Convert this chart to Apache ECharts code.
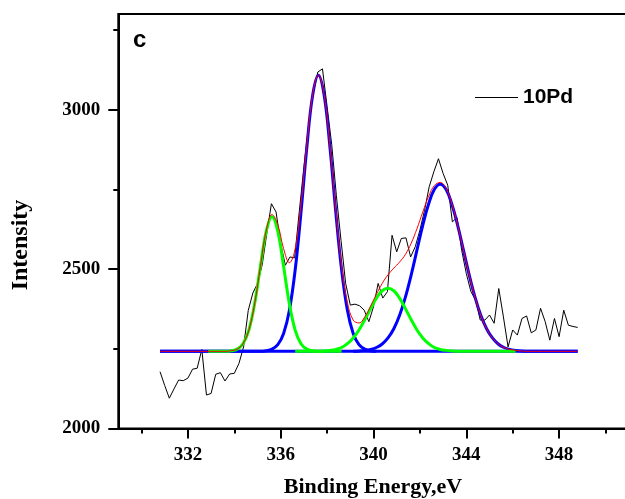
<!DOCTYPE html>
<html><head><meta charset="utf-8">
<script src="https://cdn.jsdelivr.net/npm/echarts@6/dist/echarts.min.js"></script>
<style>html,body{margin:0;padding:0;background:#fff}#c{width:625px;height:499px}</style>
</head><body><div id="c"></div>
<script>
// Measured spectrum (Binding energy, eV) and intensity
const energy = [330.8,331.0,331.2,331.4,331.6,331.8,332.0,332.2,332.4,332.6,332.8,333.0,333.2,333.4,333.6,333.8,334.0,334.2,334.4,334.6,334.8,335.0,335.2,335.4,335.6,335.8,336.0,336.2,336.4,336.6,336.8,337.0,337.2,337.4,337.6,337.8,338.0,338.2,338.4,338.6,338.8,339.0,339.2,339.4,339.6,339.8,340.0,340.2,340.4,340.6,340.8,341.0,341.2,341.4,341.6,341.8,342.0,342.2,342.4,342.6,342.8,343.0,343.2,343.4,343.6,343.8,344.0,344.2,344.4,344.6,344.8,345.0,345.2,345.4,345.6,345.8,346.0,346.2,346.4,346.6,346.8,347.0,347.2,347.4,347.6,347.8,348.0,348.2,348.4,348.6,348.8];
const intensity = [2178,2135,2095,2124,2152,2150,2158,2186,2189,2248,2105,2110,2170,2175,2149,2171,2173,2204,2256,2370,2425,2455,2512,2611,2705,2679,2580,2512,2538,2535,2680,2820,2950,3050,3118,3128,3010,2890,2730,2590,2455,2387,2390,2385,2371,2335,2382,2455,2409,2429,2606,2554,2596,2598,2538,2570,2622,2684,2758,2805,2846,2800,2763,2648,2662,2559,2486,2429,2403,2340,2340,2356,2330,2439,2350,2256,2309,2293,2345,2353,2300,2309,2377,2335,2277,2345,2288,2371,2324,2320,2317];

// Energy grid of the fitted curves
const fitGrid = [332.875,333.125,333.375,333.625,333.875,334.125,334.375,334.625,334.875,335.125,335.375,335.625,335.875,336.125,336.375,336.625,336.875,337.125,337.375,337.625,337.875,338.125,338.375,338.625,338.875,339.125,339.375,339.625,339.875,340.125,340.375,340.625,340.875,341.125,341.375,341.625,341.875,342.125,342.375,342.625,342.875,343.125,343.375,343.625,343.875,344.125,344.375,344.625,344.875,345.125,345.375,345.625,345.875,346.125,346.375,346.625,346.875];
const startE = 330.8;
const endE = 348.8;

// Fit background level and fitted components
const background = [2242, 2242];
const green1 = [2242,2242,2242,2242,2244,2249,2266,2308,2391,2508,2618,2664,2618,2508,2391,2308,2266,2249,2244,2242,2242,2242,2242,2242];
const blue1 = [2242,2242,2244,2249,2263,2298,2371,2498,2678,2880,3044,3108,3044,2880,2678,2498,2371,2298,2263,2249,2244,2242];
const green2 = [2242,2242,2242,2242,2242,2243,2245,2248,2254,2266,2284,2309,2341,2376,2409,2432,2440,2432,2409,2376,2341,2309,2284,2266,2254,2248,2245,2243,2242,2242,2242,2242,2242,2242,2242,2242,2242,2242,2242];
const blue2 = [2242,2243,2245,2248,2254,2265,2284,2313,2355,2412,2482,2560,2638,2704,2750,2766,2750,2704,2638,2560,2482,2412,2355,2313,2284,2265,2254,2248,2245,2243,2242,2242,2242];
const envelope = [2242,2242,2242,2242,2244,2249,2266,2308,2391,2508,2620,2671,2639,2564,2520,2564,2702,2887,3046,3109,3045,2883,2684,2510,2395,2340,2331,2350,2384,2421,2455,2482,2503,2522,2546,2581,2627,2679,2728,2762,2772,2753,2706,2638,2560,2482,2412,2355,2313,2284,2265,2254,2248,2245,2243,2242,2242,2242];

// Axis ticks
const xTickLabels = [332,336,340,344,348];
const xMinorTicks = [330,334,338,342,346,350];
const yTickLabels = [2000,2500,3000];
const yMinorTicks = [2250,2750,3250];

const backgroundX = [startE, endE];
const green1X = fitGrid.slice(0,24);
const blue1X = [startE].concat(fitGrid.slice(9,30));
const green2X = fitGrid.slice(15,54);
const blue2X = fitGrid.slice(25,57).concat([endE]);
const envelopeX = [startE].concat(fitGrid.slice(1,57)).concat([endE]);

const pairs = (xs, ys) => xs.map((x, i) => [x, ys[i]]);

const serif = '"Liberation Serif","Times New Roman",serif';
const sans = '"Liberation Sans",Arial,sans-serif';
const tickLabel = {fontFamily: serif, fontWeight: 'bold', fontSize: 19, color: '#000', formatter: v => String(v)};

const chart = echarts.init(document.getElementById('c'), null, {renderer: 'canvas'});
const fitLine = (name, xs, ys, color, width) => ({
  name, type: 'line', data: pairs(xs, ys), symbol: 'none', showSymbol: false, smooth: 0.4,
  lineStyle: {color, width}, itemStyle: {color}, silent: true, clip: false
});

chart.setOption({
  animation: false,
  backgroundColor: '#fff',
  grid: {left: 118.3, top: 14, width: 533.6, bottom: 70.5, show: true, borderColor: '#000', borderWidth: 2,
         containLabel: false, outerBoundsMode: 'none'},
  legend: {
    data: [{name: '10Pd', icon: 'path://M0,0 L43,0 L43,1 L0,1 Z'}],
    left: 470, top: 82, itemWidth: 43, itemHeight: 14, itemGap: 5,
    itemStyle: {color: '#000'},
    textStyle: {fontFamily: sans, fontWeight: 'bold', fontSize: 21, color: '#000'}
  },
  xAxis: [
    {type: 'value', min: 329, max: 352,
     axisLine: {show: true, onZero: false, lineStyle: {color: '#000', width: 2}},
     axisTick: {show: true, inside: false, length: 10, customValues: xTickLabels, lineStyle: {color: '#000', width: 2}},
     axisLabel: Object.assign({customValues: xTickLabels, margin: 17}, tickLabel),
     splitLine: {show: false}},
    {type: 'value', min: 329, max: 352, position: 'bottom',
     axisLine: {show: false},
     axisTick: {show: true, inside: false, length: 5, customValues: xMinorTicks, lineStyle: {color: '#000', width: 2}},
     axisLabel: {show: false}, splitLine: {show: false}}
  ],
  yAxis: [
    {type: 'value', min: 2000, max: 3300,
     axisLine: {show: true, onZero: false, lineStyle: {color: '#000', width: 2}},
     axisTick: {show: true, inside: false, length: 10, customValues: yTickLabels, lineStyle: {color: '#000', width: 2}},
     axisLabel: Object.assign({customValues: yTickLabels, margin: 18}, tickLabel),
     splitLine: {show: false}},
    {type: 'value', min: 2000, max: 3300, position: 'left',
     axisLine: {show: false},
     axisTick: {show: true, inside: false, length: 5, customValues: yMinorTicks, lineStyle: {color: '#000', width: 2}},
     axisLabel: {show: false}, splitLine: {show: false}}
  ],
  series: [
    {name: '10Pd', type: 'line', data: pairs(energy, intensity), symbol: 'none', showSymbol: false,
     lineStyle: {color: '#000', width: 1}, itemStyle: {color: '#000'}, silent: true},
    fitLine('bg', backgroundX, background, '#0000ff', 3),
    fitLine('b1', blue1X, blue1, '#0000ff', 3),
    fitLine('b2', blue2X, blue2, '#0000ff', 3),
    fitLine('g1', green1X, green1, '#00ff00', 3),
    fitLine('g2', green2X, green2, '#00ff00', 3),
    fitLine('env', envelopeX, envelope, '#ff0000', 1)
  ],
  graphic: [
    {type: 'text', x: 133, y: 40.5, style: {text: 'c', fontFamily: sans, fontWeight: 'bold', fontSize: 24, fill: '#000', align: 'left', verticalAlign: 'middle'}},
    {type: 'text', x: 373, y: 487, style: {text: 'Binding Energy,eV', fontFamily: serif, fontWeight: 'bold', fontSize: 22, fill: '#000', align: 'center', verticalAlign: 'middle'}},
    {type: 'text', x: 21, y: 245, rotation: Math.PI / 2, style: {text: 'Intensity', fontFamily: serif, fontWeight: 'bold', fontSize: 24, fill: '#000', align: 'center', verticalAlign: 'middle'}}
  ]
});
</script>
</body></html>
